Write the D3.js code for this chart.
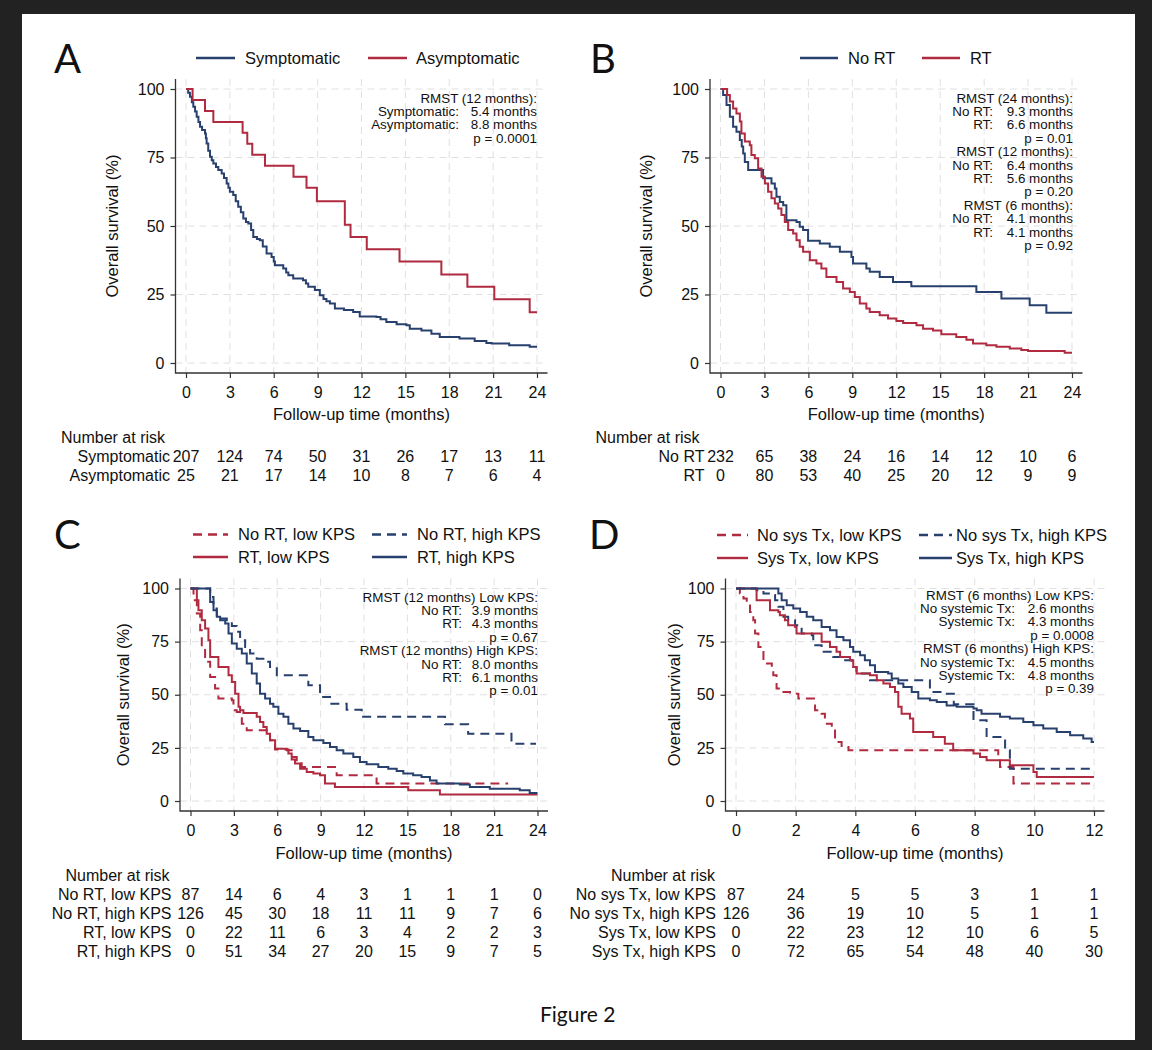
<!DOCTYPE html>
<html>
<head>
<meta charset="utf-8">
<script src="https://cdn.jsdelivr.net/npm/d3@7"></script>
<style>
  body { margin: 0; background: #222; }
  svg { display: block; }
  text { font-family: "Liberation Sans", Arial, sans-serif; fill: #111; }
  .big { font-family: Lato, "Open Sans", sans-serif; }
</style>
</head>
<body>
<svg id="fig" width="1152" height="1050"></svg>
<script>
// ---- curves: [months, survival %], each point is where the step drops to that level ----
const symptomatic = [[0,100],[0.15,98.6],[0.27,97.2],[0.4,95.2],[0.5,93.5],[0.62,91.8],[0.73,89.9],[0.85,88],[0.96,86.2],[1.1,85],[1.3,83.8],[1.36,82],[1.41,80.1],[1.52,77.5],[1.64,75.3],[1.76,74],[1.87,72.8],[2.05,71.5],[2.21,70.4],[2.44,69.2],[2.6,67.5],[2.78,65.5],[2.9,64],[3.0,62.5],[3.23,61.3],[3.4,59],[3.57,57],[3.75,55],[3.92,52.7],[4.1,51.5],[4.26,50.9],[4.45,48.5],[4.6,46],[4.85,45.3],[5.05,44.8],[5.25,42.5],[5.51,40],[5.85,38.7],[6.0,37],[6.08,35.7],[6.65,34.5],[6.85,33],[7.0,32],[7.33,30.8],[8.0,30.2],[8.2,29],[8.36,27.8],[8.81,26.6],[9.15,24.7],[9.4,23.4],[9.6,22.5],[9.84,21.7],[10.18,19.9],[10.8,19.3],[11.43,18.6],[11.88,17],[13.02,16.8],[13.3,16],[13.7,15],[14.4,14.1],[15.07,13.8],[15.3,12.5],[16.1,11.9],[16.78,10.7],[17.35,9.5],[18.7,8.9],[19.74,8.0],[20.54,7.3],[20.9,7.1],[22.1,6.5],[23.5,5.9],[24,5.9]];
const asymptomatic = [[0,100],[0.45,96],[1.3,92],[1.87,88],[3.87,84],[4.19,80],[4.53,76],[5.4,72],[7.35,68],[8.24,64],[8.95,59],[10.86,50.5],[11.25,46],[12.36,41.5],[14.6,37],[17.46,32.3],[19.24,27.8],[21.08,23.3],[23.5,18.5],[24,18.5]];

const noRt = [[0,100],[0.18,97.8],[0.41,94.2],[0.64,89.9],[0.86,86.2],[1.09,84.4],[1.32,81.4],[1.45,79],[1.55,76.5],[1.66,73.4],[1.89,70.4],[2.91,67.4],[3.48,65.5],[3.71,63.7],[3.82,60.7],[4.05,58.8],[4.28,57.6],[4.5,52.1],[5.19,51.5],[5.41,49.7],[5.64,48.5],[5.98,44.6],[6.78,43.6],[7.46,42.4],[8.15,40.6],[8.94,38.7],[9.05,36.3],[9.96,34.5],[10.19,33.3],[10.87,31.4],[11.78,29.6],[13.03,28],[17.47,25.9],[19.18,23.5],[21.11,21.1],[22.25,18.3],[24,18.3]];
const rt = [[0,100],[0.45,97.8],[0.64,95.4],[0.86,92.9],[1.09,91.1],[1.32,88.1],[1.43,83.8],[1.66,80.8],[2.0,79.5],[2.11,75.9],[2.34,74.7],[2.57,71],[2.8,68],[3.03,65.5],[3.25,62.5],[3.48,60.1],[3.71,58.2],[3.94,56.4],[4.16,54],[4.39,51.5],[4.62,48.5],[4.96,47.3],[5.19,44.8],[5.41,42.4],[5.64,40.6],[6.1,37.5],[6.55,36.3],[6.89,34.5],[7.23,31.4],[7.92,29.6],[8.37,27.2],[8.83,25.9],[9.17,24.1],[9.51,21.7],[9.96,19.9],[10.19,18.6],[10.87,17.4],[11.44,16.2],[12.01,15.3],[12.47,14.6],[13.38,13.8],[13.83,12.5],[14.51,11.9],[15.08,10.5],[16.1,9.5],[16.79,8.5],[17.24,7.1],[18.15,6.5],[18.84,5.9],[19.75,5.3],[20.54,4.7],[21.0,4.4],[23.5,3.7],[24,3.7]];

const noRtLowKps = [[0,100],[0.21,94.5],[0.44,88.2],[0.67,80.4],[0.78,72.5],[1.01,65.5],[1.36,58.4],[1.7,52.9],[1.93,48.2],[2.86,47.4],[2.97,42.7],[3.2,41.9],[3.55,36.4],[3.89,33.3],[5.27,32.5],[5.5,28.6],[5.85,24.2],[6.77,23.9],[7.0,20.7],[7.35,18.4],[7.69,16],[10.11,12.1],[12.87,8.2],[21.97,8.2]];
const noRtHighKps = [[0,100],[1.36,96],[1.59,90.6],[1.82,85.9],[2.51,84.3],[2.86,82.3],[3.2,79.6],[3.43,75.7],[3.78,72.5],[4.12,69.4],[4.58,67],[5.16,65.5],[5.5,63.1],[5.97,59.2],[8.15,54.5],[8.96,49],[9.65,45.8],[10.8,43],[11.84,39.6],[17.6,36.1],[19.2,31.7],[22.2,27],[23.9,27]];
const rtLowKps = [[0,100],[0.44,94.5],[0.55,89.8],[0.78,85.1],[1.01,81.2],[1.24,75.7],[1.36,67.8],[1.93,63.1],[2.63,59.2],[2.86,56],[3.09,50.5],[3.32,44.3],[3.43,42.7],[3.66,41.4],[4.58,39.6],[4.81,37.2],[5.04,34.8],[5.27,31.7],[5.5,28.6],[5.85,24.6],[6.66,23.9],[6.77,22.3],[7.0,19.5],[7.23,17.6],[7.58,15.2],[8.04,13.7],[8.5,12.9],[8.96,12.1],[9.3,8.2],[9.99,6.6],[15.06,5.1],[17.25,3.1],[24,3.1]];
const rtHighKps = [[0,100],[1.36,93.7],[1.59,89.8],[1.82,86.7],[2.05,85.1],[2.4,83.5],[2.63,78.8],[2.86,74.1],[3.2,71.7],[3.55,69.4],[3.89,64.7],[4.24,60],[4.58,55.3],[4.81,50.5],[5.16,48.2],[5.5,45.8],[5.73,44.3],[6.08,41.1],[6.43,39.6],[6.77,36.4],[7.12,34.1],[7.58,33],[8.15,30.1],[8.5,28.6],[9.19,27.3],[9.65,25.4],[10.11,23.9],[10.57,22.3],[11.26,20.7],[11.72,18.4],[12.18,17.3],[12.99,16],[13.68,15.2],[14.26,14.1],[14.72,12.9],[15.4,12.1],[15.98,11.3],[16.56,9.7],[17.02,8.2],[18.63,7.8],[19.32,6.6],[20.7,5.8],[22.77,5.1],[23.46,3.8],[24,3.8]];

const noSysLowKps = [[0,100],[0.13,97.6],[0.25,95.3],[0.36,92.9],[0.47,89],[0.58,85.1],[0.64,78.8],[0.75,72.5],[0.92,64.7],[1.2,63.1],[1.25,59.2],[1.36,52.9],[1.59,51.3],[1.81,50.5],[2.09,48.2],[2.65,42.7],[2.87,41.1],[2.98,36.4],[3.21,34.1],[3.32,27.8],[3.54,25.4],[3.77,23.9],[8.79,20.7],[8.85,16],[9.3,8.2],[12,8.2]];
const noSysHighKps = [[0,100],[0.69,99.2],[0.92,97.6],[1.14,96.9],[1.31,94.5],[1.42,91.4],[1.59,86.7],[1.75,85.1],[1.98,82.7],[2.2,78.8],[2.54,78],[2.59,73.3],[2.87,70.2],[3.26,67.8],[3.6,66.2],[3.88,63.1],[4.04,60],[4.49,56.8],[6.5,51.3],[7.0,50.5],[7.3,45.5],[7.96,38],[8.4,30.1],[9.02,23.9],[9.18,15.2],[12,15.2]];
const sysLowKps = [[0,100],[0.69,94.5],[1.14,89.8],[1.42,89],[1.47,87.4],[1.64,85.1],[1.75,82.7],[1.98,81.9],[2.03,78.8],[2.87,74.9],[3.15,72.5],[3.37,70.2],[3.49,67.8],[3.82,66.2],[3.93,63.1],[4.04,60],[4.49,59.2],[4.72,56.8],[4.94,55.3],[5.16,53.7],[5.33,51.3],[5.44,44.3],[5.55,41.1],[5.83,38.8],[5.94,32.5],[6.61,30.1],[7.0,27],[7.28,23.9],[7.96,22.3],[8.18,20.7],[8.4,19.2],[9.18,16.8],[9.97,13.7],[10.08,11.3],[12,11.3]];
const sysHighKps = [[0,100],[1.42,97.6],[1.53,94.5],[1.7,92.1],[1.92,90.6],[2.15,89],[2.37,86.7],[2.59,85.1],[2.87,81.9],[3.15,80.4],[3.37,77.2],[3.6,75.7],[3.82,72.5],[3.93,70.2],[4.16,68.6],[4.32,66.2],[4.49,63.9],[4.66,60.7],[5.1,60],[5.22,57.6],[5.44,55.3],[5.61,53.7],[5.89,51.3],[6.11,48.2],[6.5,47.4],[6.73,46.6],[7.06,45],[7.4,44.3],[7.96,43.5],[8.07,42.7],[8.23,41.1],[8.85,39.6],[9.18,38.8],[9.63,37.2],[9.97,35.6],[10.3,34.1],[10.75,32.5],[11.2,30.9],[11.64,29.4],[11.92,27.8],[12,27.8]];

// ---- axes ticks ----
const yTicks = [0, 25, 50, 75, 100];
const ticks24 = [0, 3, 6, 9, 12, 15, 18, 21, 24];
const ticks12 = [0, 2, 4, 6, 8, 10, 12];

// ---- numbers at risk ----
const riskA = [
  ["Symptomatic", [207, 124, 74, 50, 31, 26, 17, 13, 11]],
  ["Asymptomatic", [25, 21, 17, 14, 10, 8, 7, 6, 4]]
];
const riskB = [
  ["No RT", [232, 65, 38, 24, 16, 14, 12, 10, 6]],
  ["RT", [0, 80, 53, 40, 25, 20, 12, 9, 9]]
];
const riskC = [
  ["No RT, low KPS", [87, 14, 6, 4, 3, 1, 1, 1, 0]],
  ["No RT, high KPS", [126, 45, 30, 18, 11, 11, 9, 7, 6]],
  ["RT, low KPS", [0, 22, 11, 6, 3, 4, 2, 2, 3]],
  ["RT, high KPS", [0, 51, 34, 27, 20, 15, 9, 7, 5]]
];
const riskD = [
  ["No sys Tx, low KPS", [87, 24, 5, 5, 3, 1, 1]],
  ["No sys Tx, high KPS", [126, 36, 19, 10, 5, 1, 1]],
  ["Sys Tx, low KPS", [0, 22, 23, 12, 10, 6, 5]],
  ["Sys Tx, high KPS", [0, 72, 65, 54, 48, 40, 30]]
];

// ---- RMST annotations: [label, value] ----
const rmstA = [["RMST (12 months):"], ["Symptomatic:", "5.4 months"], ["Asymptomatic:", "8.8 months"], ["p = 0.0001"]];
const rmstB = [["RMST (24 months):"], ["No RT:", "9.3 months"], ["RT:", "6.6 months"], ["p = 0.01"],
               ["RMST (12 months):"], ["No RT:", "6.4 months"], ["RT:", "5.6 months"], ["p = 0.20"],
               ["RMST (6 months):"], ["No RT:", "4.1 months"], ["RT:", "4.1 months"], ["p = 0.92"]];
const rmstC = [["RMST (12 months) Low KPS:"], ["No RT:", "3.9 months"], ["RT:", "4.3 months"], ["p = 0.67"],
               ["RMST (12 months) High KPS:"], ["No RT:", "8.0 months"], ["RT:", "6.1 months"], ["p = 0.01"]];
const rmstD = [["RMST (6 months) Low KPS:"], ["No systemic Tx:", "2.6 months"], ["Systemic Tx:", "4.3 months"], ["p = 0.0008"],
               ["RMST (6 months) High KPS:"], ["No systemic Tx:", "4.5 months"], ["Systemic Tx:", "4.8 months"], ["p = 0.39"]];

const BLUE = "#27406e", RED = "#b02a40", AXIS = "#333", GRID = "#e0e0e0";

const panels = [
  { letter: "A", lx: 54, ly: 73, x0: 186, x1: 537, y0: 363, y100: 89, xmax: 24, xTicks: ticks24,
    ytx: 112, xtY: 414,
    series: [{ data: symptomatic, color: BLUE }, { data: asymptomatic, color: RED }],
    legend: [{ a: 196, b: 235, t: 245, y: 58, color: BLUE, label: "Symptomatic" },
             { a: 368, b: 407, t: 416, y: 58, color: RED, label: "Asymptomatic" }],
    rmst: rmstA, rx: 537, rlx: 459, ry: 98,
    risk: riskA, riskY: 437, labOff: 16 },
  { letter: "B", lx: 590, ly: 73, x0: 720.5, x1: 1072, y0: 363, y100: 89, xmax: 24, xTicks: ticks24,
    ytx: 646, xtY: 414,
    series: [{ data: noRt, color: BLUE }, { data: rt, color: RED }],
    legend: [{ a: 800, b: 838, t: 848, y: 58, color: BLUE, label: "No RT" },
             { a: 922, b: 960, t: 970, y: 58, color: RED, label: "RT" }],
    rmst: rmstB, rx: 1073, rlx: 993, ry: 98,
    risk: riskB, riskY: 437, labOff: 16 },
  { letter: "C", lx: 54, ly: 549, x0: 190.5, x1: 537.5, y0: 801, y100: 588.5, xmax: 24, xTicks: ticks24,
    ytx: 123, xtY: 853,
    series: [{ data: noRtLowKps, color: RED, dash: "9,6" }, { data: noRtHighKps, color: BLUE, dash: "9,6" },
             { data: rtLowKps, color: RED }, { data: rtHighKps, color: BLUE }],
    legend: [{ a: 193, b: 228, t: 238, y: 534.5, color: RED, dash: "9,6", label: "No RT, low KPS" },
             { a: 372, b: 407, t: 417, y: 534.5, color: BLUE, dash: "9,6", label: "No RT, high KPS" },
             { a: 193, b: 228, t: 238, y: 557, color: RED, label: "RT, low KPS" },
             { a: 372, b: 407, t: 417, y: 557, color: BLUE, label: "RT, high KPS" }],
    rmst: rmstC, rx: 538, rlx: 462, ry: 597,
    risk: riskC, riskY: 875, labOff: 19 },
  { letter: "D", lx: 589, ly: 549, x0: 736, x1: 1094, y0: 801, y100: 588.5, xmax: 12, xTicks: ticks12,
    ytx: 674, xtY: 853,
    series: [{ data: noSysLowKps, color: RED, dash: "9,6" }, { data: noSysHighKps, color: BLUE, dash: "9,6" },
             { data: sysLowKps, color: RED }, { data: sysHighKps, color: BLUE }],
    legend: [{ a: 717, b: 748, t: 757, y: 535, color: RED, dash: "9,6", label: "No sys Tx, low KPS" },
             { a: 919, b: 952, t: 956, y: 535, color: BLUE, dash: "9,6", label: "No sys Tx, high KPS" },
             { a: 717, b: 748, t: 757, y: 558, color: RED, label: "Sys Tx, low KPS" },
             { a: 919, b: 952, t: 956, y: 558, color: BLUE, label: "Sys Tx, high KPS" }],
    rmst: rmstD, rx: 1094, rlx: 1015, ry: 595,
    risk: riskD, riskY: 875, labOff: 20 }
];

const svg = d3.select("#fig");

// white page on dark background
svg.append("rect")
  .attr("x", 22).attr("y", 14).attr("width", 1113).attr("height", 1026)
  .attr("fill", "#fff");

function drawPanel(p) {
  const x = d3.scaleLinear().domain([0, p.xmax]).range([p.x0, p.x1]);
  const y = d3.scaleLinear().domain([0, 100]).range([p.y0, p.y100]);
  const left = p.x0 - 10.5, right = p.x1 + 10.5, top = p.y100 - 10, bottom = p.y0 + 10;
  const g = svg.append("g");

  // dashed gridlines
  g.append("g").selectAll("line").data(yTicks).join("line")
    .attr("x1", left).attr("x2", right)
    .attr("y1", d => y(d)).attr("y2", d => y(d))
    .attr("stroke", GRID).attr("stroke-width", 1).attr("stroke-dasharray", "7,5");
  g.append("g").selectAll("line").data(p.xTicks).join("line")
    .attr("x1", d => x(d)).attr("x2", d => x(d))
    .attr("y1", top).attr("y2", bottom)
    .attr("stroke", GRID).attr("stroke-width", 1).attr("stroke-dasharray", "7,5");

  // axes
  const ya = g.append("g")
    .attr("transform", `translate(${left},0)`)
    .call(d3.axisLeft(y).tickValues(yTicks).tickSize(5).tickPadding(6));
  ya.select(".domain").remove();
  ya.attr("font-size", 16).attr("font-family", null);
  ya.selectAll("line").attr("stroke", AXIS).attr("stroke-width", 1.2);

  const xa = g.append("g")
    .attr("transform", `translate(0,${bottom})`)
    .call(d3.axisBottom(x).tickValues(p.xTicks).tickSize(5).tickPadding(9));
  xa.select(".domain").remove();
  xa.attr("font-size", 16).attr("font-family", null);
  xa.selectAll("line").attr("stroke", AXIS).attr("stroke-width", 1.2);

  g.append("path")
    .attr("d", `M${left},${top}V${bottom}H${right}`)
    .attr("fill", "none").attr("stroke", AXIS).attr("stroke-width", 1.3);

  // axis titles
  g.append("text")
    .attr("transform", `translate(${p.ytx},${(p.y0 + p.y100) / 2}) rotate(-90)`)
    .attr("text-anchor", "middle").attr("dy", "0.35em")
    .attr("font-size", 16.5).text("Overall survival (%)");
  g.append("text")
    .attr("x", (p.x0 + p.x1) / 2).attr("y", p.xtY).attr("dy", "0.35em")
    .attr("text-anchor", "middle").attr("font-size", 16.5)
    .text("Follow-up time (months)");

  // survival curves
  const line = d3.line()
    .x(d => x(d[0])).y(d => y(d[1]))
    .curve(d3.curveStepAfter);
  p.series.forEach(s => {
    g.append("path").datum(s.data)
      .attr("d", line)
      .attr("fill", "none")
      .attr("stroke", s.color)
      .attr("stroke-width", 2)
      .attr("stroke-dasharray", s.dash || null);
  });

  // legend
  p.legend.forEach(l => {
    g.append("line")
      .attr("x1", l.a).attr("x2", l.b).attr("y1", l.y).attr("y2", l.y)
      .attr("stroke", l.color).attr("stroke-width", 2.4)
      .attr("stroke-dasharray", l.dash || null);
    g.append("text")
      .attr("x", l.t).attr("y", l.y).attr("dy", "0.35em")
      .attr("font-size", 16.5).text(l.label);
  });

  // RMST text block
  p.rmst.forEach((r, i) => {
    const yy = p.ry + i * 13.4;
    if (r.length === 1) {
      g.append("text").attr("x", p.rx).attr("y", yy).attr("dy", "0.35em")
        .attr("text-anchor", "end").attr("font-size", 13.4).text(r[0]);
    } else {
      g.append("text").attr("x", p.rlx).attr("y", yy).attr("dy", "0.35em")
        .attr("text-anchor", "end").attr("font-size", 13.4).text(r[0]);
      g.append("text").attr("x", p.rx).attr("y", yy).attr("dy", "0.35em")
        .attr("text-anchor", "end").attr("font-size", 13.4).text(r[1]);
    }
  });

  // panel letter
  svg.append("text").attr("class", "big")
    .attr("x", p.lx).attr("y", p.ly)
    .attr("font-size", 40).text(p.letter);

  // number at risk table
  g.append("text")
    .attr("x", p.x0 - 125).attr("y", p.riskY).attr("dy", "0.35em")
    .attr("font-size", 16).text("Number at risk");
  p.risk.forEach((row, i) => {
    const yy = p.riskY + 19 * (i + 1);
    g.append("text")
      .attr("x", p.x0 - p.labOff).attr("y", yy).attr("dy", "0.35em")
      .attr("text-anchor", "end").attr("font-size", 16).text(row[0]);
    g.append("g").selectAll("text").data(row[1]).join("text")
      .attr("x", (d, j) => x(p.xTicks[j])).attr("y", yy).attr("dy", "0.35em")
      .attr("text-anchor", "middle").attr("font-size", 16)
      .text(d => d);
  });
}

panels.forEach(drawPanel);

svg.append("text").attr("class", "big")
  .attr("x", 540).attr("y", 1022)
  .attr("font-size", 21).text("Figure 2");
</script>
</body>
</html>
